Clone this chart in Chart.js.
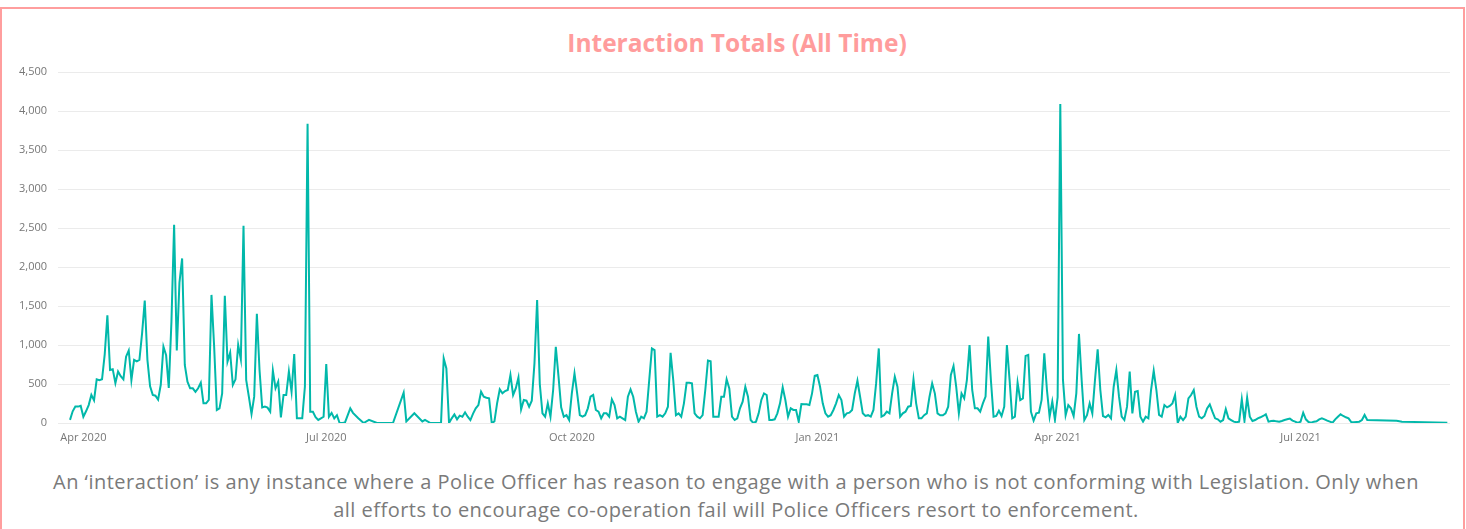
<!DOCTYPE html>
<html>
<head>
<meta charset="utf-8">
<title>Interaction Totals (All Time)</title>
<script src="https://cdn.jsdelivr.net/npm/chart.js@4.4.1/dist/chart.umd.min.js"></script>
<style>
    html, body { margin: 0; padding: 0; background: #fff; width: 1466px; height: 529px; overflow: hidden; }
    #frame { position: absolute; left: 0; top: 7px; width: 1465px; height: 600px; box-sizing: border-box; border: 2px solid #FF9E9E; }
    #title { position: absolute; left: 4px; top: 26px; width: 1466px; text-align: center; font: 700 24.5px 'Open Sans', sans-serif; color: #FF9C9C; }
    #chart { position: absolute; left: 0; top: 0; }
    #note { position: absolute; left: 3px; top: 468px; width: 1466px; text-align: center; font: 20px 'Open Sans', sans-serif; letter-spacing: 0.48px; line-height: 28px; color: #7a7a7a; }
</style>
</head>
<body>
<div id="frame"></div>
<div id="title">Interaction Totals (All Time)</div>
<canvas id="chart" width="1466" height="460"></canvas>
<div id="note">An ‘interaction’ is any instance where a Police Officer has reason to engage with a person who is not conforming with Legislation. Only when<br>all efforts to encourage co-operation fail will Police Officers resort to enforcement.</div>
<script>
// Day numbers count from 27 Mar 2020 (day 0)

// Daily totals, 27 Mar 2020 - 8 Jul 2020
const startSpring2020 = 0;
const valuesSpring2020 = [
    40, 150, 210, 210, 220, 80, 150, 230, 360, 290,
    560, 550, 560, 880, 1380, 680, 690, 510, 660, 600,
    560, 850, 930, 550, 810, 790, 810, 1150, 1570, 810,
    470, 360, 350, 300, 490, 980, 870, 450, 1300, 2540,
    930, 1800, 2110, 744, 530, 445, 445, 400, 445, 517,
    252, 252, 295, 1642, 980, 167, 188, 380, 1630, 787,
    902, 487, 560, 1000, 817, 2530, 552, 338, 115, 338,
    1400, 680, 200, 210, 197, 145, 672, 445, 530, 73,
    360, 360, 660, 400, 885, 60, 60, 60, 466, 3836,
    145, 145, 75, 40, 60, 80, 757, 80, 130, 60,
    100, 0, 0, 5
];

// Summer 2020 only has a few reported days
const gapDaysSummer2020 = [105, 106, 108, 110, 112, 115, 121, 125, 126, 129, 132, 133, 135, 139];
const gapValuesSummer2020 = [188, 130, 60, 0, 40, 0, 0, 390, 20, 125, 20, 40, 0, 0];

// Daily totals, 14 Aug 2020 - 31 Dec 2020
const startAutumn2020 = 140;
const valuesAutumn2020 = [
    828, 700, 0, 60, 110, 47, 94, 81, 137, 81,
    38, 120, 188, 230, 401, 337, 324, 316, 0, 20,
    252, 431, 380, 410, 423, 615, 359, 444, 585, 175,
    295, 286, 209, 286, 765, 1576, 500, 124, 81, 252,
    81, 423, 978, 600, 200, 81, 100, 38, 380, 636,
    380, 100, 81, 100, 188, 337, 359, 167, 145, 60,
    124, 124, 81, 303, 230, 60, 81, 60, 38, 337,
    431, 337, 145, 17, 81, 60, 145, 551, 956, 935,
    81, 100, 81, 124, 209, 900, 551, 100, 124, 81,
    252, 516, 516, 508, 124, 81, 60, 100, 423, 800,
    790, 81, 81, 81, 337, 337, 559, 444, 81, 38,
    60, 188, 273, 465, 337, 38, 0, 17, 124, 295,
    380, 359, 38, 38, 47, 124, 252, 457, 295, 81,
    188, 167, 167, 17, 243, 239, 239, 230, 380, 606
];

// Daily totals, 1 Jan 2021 - 27 Jul 2021
const start2021 = 280;
const values2021 = [
    615, 465, 252, 124, 81, 100, 167, 252, 359, 295,
    81, 124, 132, 167, 380, 542, 337, 124, 90, 100,
    81, 167, 508, 956, 81, 100, 145, 124, 380, 593,
    465, 81, 124, 145, 209, 218, 559, 252, 60, 60,
    100, 124, 337, 508, 380, 124, 100, 100, 124, 209,
    615, 730, 465, 124, 380, 316, 551, 1000, 423, 188,
    188, 145, 252, 338, 1108, 552, 81, 90, 158, 90,
    209, 1000, 552, 60, 81, 517, 295, 316, 860, 872,
    145, 30, 124, 132, 295, 894, 423, 81, 274, 40,
    330, 4090, 552, 100, 230, 188, 90, 380, 1142, 552,
    38, 100, 250, 124, 552, 945, 423, 90, 73, 103,
    60, 465, 679, 337, 81, 38, 209, 658, 124, 401,
    410, 81, 17, 81, 60, 423, 670, 423, 103, 81,
    230, 200, 218, 250, 359, 0, 81, 38, 81, 316,
    359, 423, 209, 81, 60, 90, 188, 239, 145, 60,
    47, 17, 38, 179, 60, 38, 17, 9, 17, 303,
    26, 325, 81, 26, 38, 60, 73, 90, 111, 17,
    26, 30, 21, 17, 26, 38, 47, 56, 30, 17,
    0, 17, 132, 47, 13, 4, 17, 21, 47, 60,
    47, 30, 17, 4, 47, 81, 111, 90, 73, 60,
    13, 9, 13, 17, 38, 103, 38
];

// Last few reported days
const tailDays2021 = [497, 499, 516];
const tailValues2021 = [30, 17, 4];

// X axis labels (first of the month)
const tickDays = [5, 96, 188, 280, 370, 461];
const tickLabels = ['Apr 2020', 'Jul 2020', 'Oct 2020', 'Jan 2021', 'Apr 2021', 'Jul 2021'];

// Build the point list
function buildPoints() {
    const points = [];
    valuesSpring2020.forEach((v, i) => points.push({ x: startSpring2020 + i, y: v }));
    gapDaysSummer2020.forEach((d, i) => points.push({ x: d, y: gapValuesSummer2020[i] }));
    valuesAutumn2020.forEach((v, i) => points.push({ x: startAutumn2020 + i, y: v }));
    values2021.forEach((v, i) => points.push({ x: start2021 + i, y: v }));
    tailDays2021.forEach((d, i) => points.push({ x: d, y: tailValues2021[i] }));
    return points;
}

const axisFont = { family: "'Open Sans', sans-serif", size: 11 };

new Chart(document.getElementById('chart').getContext('2d'), {
    type: 'line',
    data: {
        datasets: [{
            label: 'Interactions',
            data: buildPoints(),
            borderColor: '#01B8AA',
            borderWidth: 2,
            pointRadius: 0,
            tension: 0,
            fill: false
        }]
    },
    options: {
        responsive: false,
        animation: false,
        layout: { padding: { left: 0, right: 16, top: 72, bottom: 7 } },
        plugins: {
            legend: { display: false },
            tooltip: { enabled: false }
        },
        scales: {
            x: {
                type: 'linear',
                min: -4.5,
                max: 517,
                grid: { display: false, drawTicks: false },
                border: { display: false },
                afterBuildTicks: scale => { scale.ticks = tickDays.map(d => ({ value: d })); },
                afterFit: scale => { scale.height = 30; },
                ticks: {
                    autoSkip: false,
                    maxRotation: 0,
                    padding: 8,
                    color: '#777',
                    font: axisFont,
                    callback: (value, index) => tickLabels[index]
                }
            },
            y: {
                min: 0,
                max: 4500,
                grid: { color: '#EBEBEB', drawTicks: false },
                border: { display: false },
                afterFit: scale => { scale.width = 58; },
                ticks: {
                    stepSize: 500,
                    padding: 11,
                    color: '#777',
                    font: axisFont,
                    callback: value => value.toLocaleString('en-US')
                }
            }
        }
    }
});
</script>
</body>
</html>
